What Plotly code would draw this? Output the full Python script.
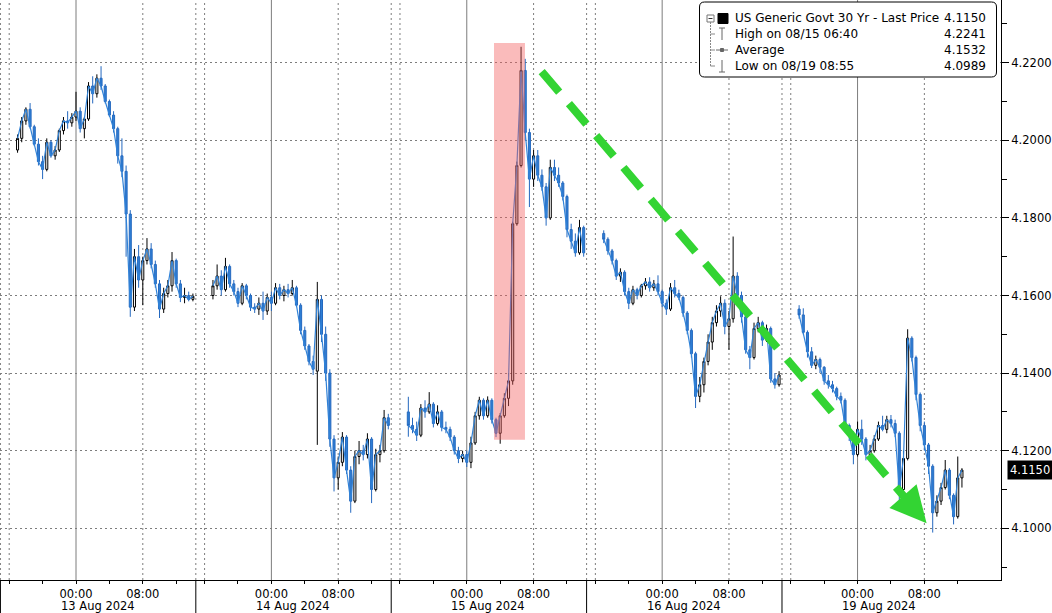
import plotly.graph_objects as go

# ------------------------------------------------------------------ data
DAY_LABELS = ["13 Aug 2024", "14 Aug 2024", "15 Aug 2024", "16 Aug 2024", "19 Aug 2024"]
TIME_TICK_HOURS = [0, 8]
TIME_TICK_TEXT = ["00:00", "08:00"]
MINOR_TICK_HOURS = [-8, -4, 4, 12]
FIRST_BAR_HOUR = -7.0      # first 30-minute bar of each session, hours from that day's 00:00
BAR_STEP_HOURS = 0.5
Y_TICKS = [4.10, 4.12, 4.14, 4.16, 4.18, 4.20, 4.22]

LEGEND_ROWS = [
    ("US Generic Govt 30 Yr - Last Price", "4.1150"),
    ("High on 08/15 06:40", "4.2241"),
    ("Average", "4.1532"),
    ("Low on 08/19 08:55", "4.0989"),
]

# 13 Aug 2024
d1_open = [4.1975, 4.2005, 4.2050, 4.2080, 4.2035, 4.1990, 4.1945, 4.1925, 4.1995, 4.1960, 4.1975,
           4.2025, 4.2050, 4.2045, 4.2060, 4.2075, 4.2030, 4.2055, 4.2140, 4.2120, 4.2160, 4.2140,
           4.2100, 4.2065, 4.2030, 4.1960, 4.1920, 4.1810, 4.1570, 4.1700, 4.1640, 4.1690, 4.1720,
           4.1680, 4.1630, 4.1565, 4.1605, 4.1625, 4.1690, 4.1630, 4.1595, 4.1600, 4.1590]
d1_high = [4.2015, 4.2060, 4.2085, 4.2096, 4.2040, 4.2005, 4.1960, 4.2005, 4.2000, 4.1985, 4.2030,
           4.2060, 4.2075, 4.2070, 4.2125, 4.2085, 4.2060, 4.2150, 4.2165, 4.2170, 4.2191, 4.2145,
           4.2105, 4.2075, 4.2035, 4.2005, 4.1935, 4.1820, 4.1720, 4.1730, 4.1700, 4.1748, 4.1735,
           4.1690, 4.1640, 4.1620, 4.1640, 4.1712, 4.1695, 4.1640, 4.1620, 4.1610, 4.1605]
d1_low = [4.1968, 4.1995, 4.2040, 4.2030, 4.1985, 4.1935, 4.1900, 4.1920, 4.1955, 4.1950, 4.1970,
          4.2015, 4.2030, 4.2035, 4.2050, 4.2020, 4.2005, 4.2050, 4.2095, 4.2110, 4.2130, 4.2095,
          4.2060, 4.2020, 4.1940, 4.1905, 4.1700, 4.1545, 4.1560, 4.1620, 4.1575, 4.1680, 4.1670,
          4.1620, 4.1542, 4.1555, 4.1595, 4.1610, 4.1620, 4.1583, 4.1580, 4.1585, 4.1585]
d1_close = [4.2005, 4.2050, 4.2080, 4.2035, 4.1990, 4.1945, 4.1925, 4.1995, 4.1960, 4.1975, 4.2025,
            4.2050, 4.2045, 4.2060, 4.2075, 4.2030, 4.2055, 4.2140, 4.2120, 4.2160, 4.2140, 4.2100,
            4.2065, 4.2030, 4.1960, 4.1920, 4.1810, 4.1570, 4.1700, 4.1640, 4.1690, 4.1720, 4.1680,
            4.1630, 4.1565, 4.1605, 4.1625, 4.1690, 4.1630, 4.1595, 4.1600, 4.1590, 4.1598]

# 14 Aug 2024
d2_open = [4.1600, 4.1625, 4.1650, 4.1615, 4.1675, 4.1630, 4.1610, 4.1580, 4.1625, 4.1600, 4.1570,
           4.1565, 4.1580, 4.1560, 4.1595, 4.1580, 4.1620, 4.1600, 4.1615, 4.1605, 4.1620, 4.1575,
           4.1510, 4.1470, 4.1430, 4.1405, 4.1590, 4.1500, 4.1400, 4.1230, 4.1130, 4.1170, 4.1235,
           4.1150, 4.1070, 4.1185, 4.1200, 4.1190, 4.1230, 4.1100, 4.1190, 4.1200, 4.1285]
d2_high = [4.1640, 4.1680, 4.1665, 4.1697, 4.1680, 4.1640, 4.1620, 4.1632, 4.1630, 4.1605, 4.1580,
           4.1595, 4.1610, 4.1605, 4.1610, 4.1632, 4.1630, 4.1625, 4.1630, 4.1640, 4.1625, 4.1580,
           4.1520, 4.1475, 4.1445, 4.1635, 4.1600, 4.1520, 4.1410, 4.1240, 4.1185, 4.1248, 4.1240,
           4.1160, 4.1200, 4.1225, 4.1215, 4.1245, 4.1235, 4.1205, 4.1215, 4.1305, 4.1295]
d2_low = [4.1590, 4.1615, 4.1600, 4.1610, 4.1620, 4.1600, 4.1570, 4.1575, 4.1590, 4.1560, 4.1555,
          4.1550, 4.1537, 4.1550, 4.1560, 4.1575, 4.1590, 4.1585, 4.1595, 4.1600, 4.1570, 4.1500,
          4.1460, 4.1420, 4.1395, 4.1215, 4.1480, 4.1380, 4.1210, 4.1095, 4.1100, 4.1160, 4.1140,
          4.1040, 4.1065, 4.1165, 4.1175, 4.1180, 4.1065, 4.1095, 4.1170, 4.1195, 4.1255]
d2_close = [4.1625, 4.1650, 4.1615, 4.1675, 4.1630, 4.1610, 4.1580, 4.1625, 4.1600, 4.1570, 4.1565,
            4.1580, 4.1560, 4.1595, 4.1580, 4.1620, 4.1600, 4.1615, 4.1605, 4.1620, 4.1575, 4.1510,
            4.1470, 4.1430, 4.1410, 4.1590, 4.1500, 4.1400, 4.1230, 4.1130, 4.1170, 4.1235, 4.1150,
            4.1070, 4.1185, 4.1200, 4.1190, 4.1230, 4.1100, 4.1190, 4.1200, 4.1285, 4.1265]

# 15 Aug 2024
d3_open = [4.1300, 4.1265, 4.1255, 4.1240, 4.1310, 4.1300, 4.1320, 4.1270, 4.1300, 4.1260, 4.1255,
           4.1235, 4.1200, 4.1180, 4.1190, 4.1170, 4.1220, 4.1290, 4.1330, 4.1290, 4.1330, 4.1280,
           4.1245, 4.1290, 4.1335, 4.1380, 4.1785, 4.1935, 4.2180, 4.2020, 4.1900, 4.1960, 4.1910,
           4.1880, 4.1800, 4.1930, 4.1910, 4.1890, 4.1855, 4.1770, 4.1740, 4.1710, 4.1775]
d3_high = [4.1339, 4.1285, 4.1275, 4.1320, 4.1330, 4.1351, 4.1325, 4.1317, 4.1305, 4.1275, 4.1262,
           4.1240, 4.1210, 4.1200, 4.1200, 4.1236, 4.1300, 4.1339, 4.1335, 4.1340, 4.1335, 4.1285,
           4.1297, 4.1348, 4.1400, 4.1790, 4.1945, 4.2241, 4.2210, 4.2030, 4.1975, 4.1975, 4.1925,
           4.1890, 4.1950, 4.1950, 4.1930, 4.1895, 4.1860, 4.1785, 4.1760, 4.1795, 4.1780]
d3_low = [4.1236, 4.1245, 4.1225, 4.1235, 4.1285, 4.1295, 4.1260, 4.1265, 4.1250, 4.1245, 4.1225,
          4.1190, 4.1168, 4.1170, 4.1158, 4.1155, 4.1215, 4.1280, 4.1280, 4.1285, 4.1270, 4.1235,
          4.1218, 4.1285, 4.1315, 4.1370, 4.1780, 4.1930, 4.2000, 4.1828, 4.1880, 4.1895, 4.1870,
          4.1780, 4.1795, 4.1895, 4.1880, 4.1845, 4.1750, 4.1720, 4.1700, 4.1705, 4.1700]
d3_close = [4.1265, 4.1255, 4.1240, 4.1310, 4.1300, 4.1320, 4.1270, 4.1300, 4.1260, 4.1255, 4.1235,
            4.1200, 4.1180, 4.1190, 4.1170, 4.1220, 4.1290, 4.1330, 4.1290, 4.1330, 4.1280, 4.1245,
            4.1290, 4.1335, 4.1380, 4.1785, 4.1935, 4.2180, 4.2020, 4.1900, 4.1960, 4.1910, 4.1880,
            4.1800, 4.1930, 4.1910, 4.1890, 4.1855, 4.1770, 4.1740, 4.1710, 4.1775, 4.1710]

# 16 Aug 2024
d4_open = [4.1760, 4.1745, 4.1715, 4.1690, 4.1650, 4.1660, 4.1610, 4.1580, 4.1615, 4.1600, 4.1625,
           4.1635, 4.1620, 4.1630, 4.1610, 4.1580, 4.1565, 4.1620, 4.1605, 4.1595, 4.1555, 4.1510,
           4.1450, 4.1340, 4.1370, 4.1430, 4.1480, 4.1530, 4.1560, 4.1580, 4.1520, 4.1540, 4.1650,
           4.1600, 4.1545, 4.1460, 4.1440, 4.1515, 4.1530, 4.1485, 4.1515, 4.1385, 4.1370]
d4_high = [4.1768, 4.1750, 4.1720, 4.1695, 4.1670, 4.1665, 4.1620, 4.1625, 4.1620, 4.1630, 4.1645,
           4.1647, 4.1640, 4.1652, 4.1615, 4.1590, 4.1632, 4.1640, 4.1615, 4.1600, 4.1560, 4.1515,
           4.1455, 4.1390, 4.1440, 4.1500, 4.1545, 4.1575, 4.1598, 4.1590, 4.1560, 4.1752, 4.1660,
           4.1610, 4.1550, 4.1470, 4.1530, 4.1545, 4.1535, 4.1525, 4.1520, 4.1400, 4.1405]
d4_low = [4.1735, 4.1705, 4.1680, 4.1640, 4.1635, 4.1600, 4.1565, 4.1575, 4.1590, 4.1595, 4.1615,
          4.1610, 4.1612, 4.1600, 4.1570, 4.1550, 4.1560, 4.1595, 4.1588, 4.1545, 4.1500, 4.1440,
          4.1310, 4.1325, 4.1350, 4.1420, 4.1460, 4.1520, 4.1545, 4.1500, 4.1460, 4.1530, 4.1590,
          4.1530, 4.1450, 4.1410, 4.1435, 4.1505, 4.1470, 4.1480, 4.1375, 4.1360, 4.1365]
d4_close = [4.1745, 4.1715, 4.1690, 4.1650, 4.1660, 4.1610, 4.1580, 4.1615, 4.1600, 4.1625, 4.1635,
            4.1620, 4.1630, 4.1610, 4.1580, 4.1565, 4.1620, 4.1605, 4.1595, 4.1555, 4.1510, 4.1450,
            4.1340, 4.1370, 4.1430, 4.1480, 4.1530, 4.1560, 4.1580, 4.1520, 4.1540, 4.1650, 4.1600,
            4.1545, 4.1460, 4.1440, 4.1515, 4.1530, 4.1485, 4.1515, 4.1385, 4.1370, 4.1395]

# 19 Aug 2024
d5_open = [4.1565, 4.1550, 4.1505, 4.1455, 4.1420, 4.1435, 4.1415, 4.1380, 4.1370, 4.1360, 4.1340,
           4.1330, 4.1265, 4.1240, 4.1190, 4.1255, 4.1230, 4.1190, 4.1200, 4.1230, 4.1265, 4.1255,
           4.1280, 4.1270, 4.1245, 4.1100, 4.1180, 4.1490, 4.1440, 4.1345, 4.1265, 4.1215, 4.1160,
           4.1040, 4.1070, 4.1105, 4.1150, 4.1085, 4.1030, 4.1130]
d5_high = [4.1575, 4.1567, 4.1510, 4.1467, 4.1445, 4.1440, 4.1418, 4.1395, 4.1380, 4.1365, 4.1350,
           4.1335, 4.1270, 4.1250, 4.1275, 4.1280, 4.1235, 4.1215, 4.1240, 4.1275, 4.1290, 4.1290,
           4.1292, 4.1280, 4.1250, 4.1200, 4.1513, 4.1495, 4.1445, 4.1350, 4.1275, 4.1220, 4.1165,
           4.1085, 4.1117, 4.1176, 4.1155, 4.1090, 4.1185, 4.1155]
d5_low = [4.1540, 4.1500, 4.1440, 4.1413, 4.1410, 4.1400, 4.1370, 4.1360, 4.1350, 4.1330, 4.1322,
          4.1255, 4.1225, 4.1165, 4.1185, 4.1215, 4.1175, 4.1185, 4.1195, 4.1225, 4.1250, 4.1245,
          4.1260, 4.1235, 4.1067, 4.1095, 4.1175, 4.1430, 4.1330, 4.1250, 4.1200, 4.1140, 4.0989,
          4.1030, 4.1060, 4.1100, 4.1075, 4.1010, 4.1025, 4.1105]
d5_close = [4.1550, 4.1505, 4.1455, 4.1420, 4.1435, 4.1415, 4.1380, 4.1370, 4.1360, 4.1340, 4.1330,
            4.1265, 4.1240, 4.1190, 4.1255, 4.1230, 4.1190, 4.1200, 4.1230, 4.1265, 4.1255, 4.1280,
            4.1270, 4.1245, 4.1100, 4.1180, 4.1490, 4.1440, 4.1345, 4.1265, 4.1215, 4.1160, 4.1040,
            4.1070, 4.1105, 4.1150, 4.1085, 4.1030, 4.1130, 4.1150]

SESSIONS = [
    (d1_open, d1_high, d1_low, d1_close),
    (d2_open, d2_high, d2_low, d2_close),
    (d3_open, d3_high, d3_low, d3_close),
    (d4_open, d4_high, d4_low, d4_close),
    (d5_open, d5_high, d5_low, d5_close),
]

# ------------------------------------------------------------------ layout geometry
W, H = 1052, 613
PW, PH = 1001, 580            # plot area (pixels)
MR, MB = W - PW, H - PH
PX_PER_HOUR = 8.35
DAY_SPAN = 23.4               # compressed hours between two session midnights
X_ORIGIN_PX = 76              # pixel of first 00:00
SESSION_SPLIT_HOUR = 14.35    # day separator
X_RANGE = [-X_ORIGIN_PX / PX_PER_HOUR, (PW - X_ORIGIN_PX) / PX_PER_HOUR]
Y_PX_PER_UNIT = 3880.0
Y_TOP = 4.22 + 62.7 / Y_PX_PER_UNIT
Y_RANGE = [Y_TOP - PH / Y_PX_PER_UNIT, Y_TOP]

FONT = "DejaVu Sans"
GRID = "#7d7d7d"
GREEN = "#33d433"
UP_LINE, UP_FILL = "#000000", "#ffffff"
DN_LINE, DN_FILL = "#2468bf", "#2f80d6"
PATH_BLUE = "#3183d8"


def px_to_x(px):
    return (px - X_ORIGIN_PX) / PX_PER_HOUR


def paper(px, py):
    return px / PW, 1 - py / PH


def day_x(k, hour):
    return k * DAY_SPAN + hour


# ------------------------------------------------------------------ candles
xs, op, hi, lo, cl = [], [], [], [], []
line_x, line_y = [], []
for k, (o, h, l, c) in enumerate(SESSIONS):
    sx = [day_x(k, FIRST_BAR_HOUR + i * BAR_STEP_HOURS) for i in range(len(o))]
    xs += sx
    op += o
    hi += h
    lo += l
    cl += c
    line_x += sx + [None]
    line_y += list(c) + [None]

fig = go.Figure()
fig.add_trace(go.Candlestick(
    x=xs, open=op, high=hi, low=lo, close=cl,
    increasing=dict(line=dict(color=UP_LINE, width=1), fillcolor=UP_FILL),
    decreasing=dict(line=dict(color=DN_LINE, width=1), fillcolor=DN_FILL),
    whiskerwidth=0, showlegend=False, hoverinfo="skip",
))
# price path (closes) threading through the candles
fig.add_trace(go.Scatter(
    x=line_x, y=line_y, mode="lines", line=dict(color=PATH_BLUE, width=1.2),
    connectgaps=False, showlegend=False, hoverinfo="skip",
))

# y-axis major tick arrows
fig.add_trace(go.Scatter(
    x=[px_to_x(PW + 4)] * len(Y_TICKS), y=Y_TICKS, mode="markers",
    marker=dict(symbol="triangle-right", size=8, color="black"),
    cliponaxis=False, showlegend=False, hoverinfo="skip",
))
# last price pointer
last_close = SESSIONS[-1][3][-1]
fig.add_trace(go.Scatter(
    x=[px_to_x(PW + 6)], y=[last_close], mode="markers",
    marker=dict(symbol="triangle-left", size=11, color="black"),
    cliponaxis=False, showlegend=False, hoverinfo="skip",
))

shapes = []
annotations = []

# vertical grid lines
for k in range(-1, len(DAY_LABELS)):
    if k >= 0:
        shapes.append(dict(type="line", xref="x", yref="paper", x0=day_x(k, 0), x1=day_x(k, 0),
                           y0=0, y1=1, line=dict(color=GRID, width=1), layer="below"))
        for hh in (-8, 8):
            shapes.append(dict(type="line", xref="x", yref="paper", x0=day_x(k, hh), x1=day_x(k, hh),
                               y0=0, y1=1, line=dict(color=GRID, width=1, dash="2px,3px"), layer="below"))
    if k < len(DAY_LABELS) - 1:
        xs_sep = day_x(k, SESSION_SPLIT_HOUR)
        shapes.append(dict(type="line", xref="x", yref="paper", x0=xs_sep, x1=xs_sep,
                           y0=0, y1=1, line=dict(color=GRID, width=1, dash="2px,3px"), layer="below"))
        shapes.append(dict(type="line", xref="x", yref="paper", x0=xs_sep, x1=xs_sep,
                           y0=0, y1=-MB / PH, line=dict(color="black", width=1)))

# date labels under the time labels
for k, lab in enumerate(DAY_LABELS):
    annotations.append(dict(text=lab, xref="x", yref="paper", x=day_x(k, 2.6), y=-26 / PH,
                            showarrow=False, xanchor="center", yanchor="middle",
                            font=dict(family=FONT, size=11.5, color="black")))

# highlighted spike window (15 Aug)
shapes.append(dict(type="rect", xref="x", yref="y", x0=day_x(2, 3.26), x1=day_x(2, 6.97),
                   y0=4.1228, y1=4.2251, fillcolor="rgb(242,92,92)", opacity=0.42,
                   line=dict(width=0), layer="above"))

# green dashed trend arrow
arrow_start = (day_x(2, 8.97), 4.2177)
arrow_neck = (day_x(4, 5.92), 4.1073)
arrow_tip = (day_x(4, 8.27), 4.1013)
shapes.append(dict(type="line", xref="x", yref="y", x0=arrow_start[0], y0=arrow_start[1],
                   x1=arrow_neck[0], y1=arrow_neck[1],
                   line=dict(color=GREEN, width=8, dash="27px,15px"), layer="above"))
annotations.append(dict(x=arrow_tip[0], y=arrow_tip[1], xref="x", yref="y",
                        ax=-20, ay=-23, showarrow=True, arrowhead=2, arrowsize=0.9,
                        arrowwidth=8, arrowcolor=GREEN, standoff=0, text=""))

# last price box
annotations.append(dict(text=f"{last_close:.4f}", xref="paper", yref="y", x=1, y=last_close,
                        xanchor="left", yanchor="middle", xshift=6, showarrow=False,
                        bgcolor="black", borderpad=2,
                        font=dict(family=FONT, size=11.5, color="white")))

# legend box
bx0, by0, bx1, by1, r = 699.5, 2.0, 996.5, 77.0, 5.0
rx, ry = r / PW, r / PH
(X0, Y0), (X1, Y1) = paper(bx0, by0), paper(bx1, by1)
path = (f"M {X0+rx},{Y0} L {X1-rx},{Y0} Q {X1},{Y0} {X1},{Y0-ry} L {X1},{Y1+ry} "
        f"Q {X1},{Y1} {X1-rx},{Y1} L {X0+rx},{Y1} Q {X0},{Y1} {X0},{Y1+ry} "
        f"L {X0},{Y0-ry} Q {X0},{Y0} {X0+rx},{Y0} Z")
shapes.append(dict(type="path", xref="paper", yref="paper", path=path,
                   fillcolor="white", line=dict(color="black", width=1), layer="above"))

row_y = [18.3, 34.0, 50.0, 65.7]
for (label, val), yy in zip(LEGEND_ROWS, row_y):
    lx, ly = paper(733, yy)
    vx, _ = paper(988, yy)
    annotations.append(dict(text=label, xref="paper", yref="paper", x=lx, y=ly, xanchor="left",
                            yanchor="middle", showarrow=False,
                            font=dict(family=FONT, size=12, color="black")))
    annotations.append(dict(text=val, xref="paper", yref="paper", x=vx, y=ly, xanchor="right",
                            yanchor="middle", showarrow=False,
                            font=dict(family=FONT, size=12, color="black")))


def pline(x0, y0, x1, y1, color="#555555", width=1, dash=None):
    (a, b), (c, d) = paper(x0, y0), paper(x1, y1)
    ln = dict(color=color, width=width)
    if dash:
        ln["dash"] = dash
    shapes.append(dict(type="line", xref="paper", yref="paper", x0=a, y0=b, x1=c, y1=d,
                       line=ln, layer="above"))


def prect(x0, y0, x1, y1, fill, color, width=1):
    (a, b), (c, d) = paper(x0, y0), paper(x1, y1)
    shapes.append(dict(type="rect", xref="paper", yref="paper", x0=a, y0=b, x1=c, y1=d,
                       fillcolor=fill, line=dict(color=color, width=width), layer="above"))


# legend tree and icons
prect(707, 15, 714, 22, "white", "#777777")
pline(708.5, 18.5, 712.5, 18.5, "#333333")
prect(718, 13.5, 728, 23.5, "black", "black")
pline(710.5, 22, 710.5, 66, "#888888", 1, "2px,1px")
for yy in (34, 50, 66):
    pline(710.5, yy, 715, yy, "#888888")
# high icon
pline(719, 28, 725, 28, "#666666")
pline(722, 28, 722, 40, "#666666")
# average icon
pline(716, 50, 728, 50, "#666666")
prect(720.5, 48.5, 723.5, 51.5, "#666666", "#666666")
# low icon
pline(722, 60, 722, 72, "#666666")
pline(719, 72, 725, 72, "#666666")

# ------------------------------------------------------------------ axes
tickvals = [day_x(k, h) for k in range(len(DAY_LABELS)) for h in TIME_TICK_HOURS]
ticktext = [t for _ in DAY_LABELS for t in TIME_TICK_TEXT]
minor_vals = [day_x(k, h) for k in range(len(DAY_LABELS)) for h in MINOR_TICK_HOURS]

fig.update_layout(
    width=W, height=H,
    margin=dict(l=0, r=MR, t=0, b=MB, pad=0),
    paper_bgcolor="white", plot_bgcolor="white",
    showlegend=False,
    shapes=shapes, annotations=annotations,
    xaxis=dict(
        range=X_RANGE, tickmode="array", tickvals=tickvals, ticktext=ticktext,
        showgrid=False, zeroline=False, showline=True, linecolor="black", linewidth=1,
        ticks="outside", ticklen=3, tickcolor="black",
        tickfont=dict(family=FONT, size=11.5, color="black"),
        minor=dict(tickmode="array", tickvals=minor_vals, ticks="outside", ticklen=3,
                   tickcolor="black", showgrid=False),
        rangeslider=dict(visible=False), fixedrange=True,
    ),
    yaxis=dict(
        range=Y_RANGE, side="right", tickmode="array", tickvals=Y_TICKS,
        tickformat=".4f", showgrid=True, gridcolor=GRID, gridwidth=1, griddash="2px,3px",
        zeroline=False, showline=True, linecolor="black", linewidth=1,
        ticks="outside", ticklen=7, tickcolor="black",
        tickfont=dict(family=FONT, size=11.5, color="black"),
        minor=dict(dtick=0.01, tick0=4.10, ticks="outside", ticklen=5, tickcolor="black",
                   showgrid=False),
        fixedrange=True,
    ),
)

fig.write_html("out.html", include_plotlyjs=True, config={"displayModeBar": False},
               post_script="document.body.style.margin='0px';")
